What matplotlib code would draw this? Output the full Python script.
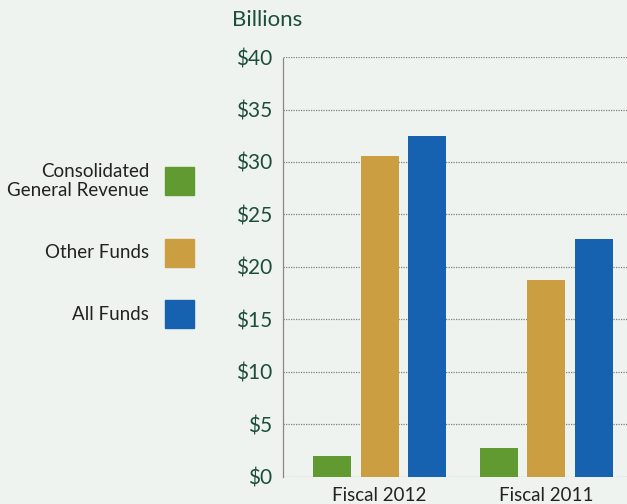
import matplotlib
matplotlib.use('Agg')
import matplotlib.pyplot as plt
import matplotlib.patches as mpatches
import numpy as np

plt.rcParams['font.family'] = ['Lato', 'DejaVu Sans']

groups = ['Fiscal 2012', 'Fiscal 2011']
series = ['Consolidated\nGeneral Revenue', 'Other Funds', 'All Funds']
general_revenue = [2.0, 2.75]
other_funds = [30.6, 18.8]
all_funds = [32.5, 22.7]
yticks = [0, 5, 10, 15, 20, 25, 30, 35, 40]

colors = ['#609a30', '#cc9e42', '#1762b0']
bg = '#eff3ef'
teal = '#1d4d3e'

fig = plt.figure(figsize=(6.27, 5.04), dpi=100, facecolor=bg)
ax = fig.add_axes([0.4514, 0.0536, 0.5486, 0.8333], facecolor=bg)

x = np.arange(len(groups))
step = 0.285
width = 0.228
for i, (vals, c) in enumerate(zip([general_revenue, other_funds, all_funds], colors)):
    ax.bar(x + (i - 1) * step, vals, width, color=c, zorder=3)

ax.set_ylim(0, 40)
ax.set_xlim(-0.58, 1.486)
ax.set_yticks(yticks)
ax.set_yticklabels(['$%d' % v for v in yticks], fontsize=15, color=teal)
ax.set_xticks(x)
ax.set_xticklabels(groups, fontsize=13.5, color='#222222')
ax.tick_params(axis='y', length=0, pad=8)
ax.tick_params(axis='x', length=0, pad=7)

for s in ['top', 'right', 'bottom']:
    ax.spines[s].set_visible(False)
ax.spines['left'].set_linestyle((0, (1, 1)))
ax.spines['left'].set_color('#888888')
ax.spines['left'].set_linewidth(0.9)
ax.yaxis.grid(True, linestyle=(0, (1, 1)), color='#808080', linewidth=0.9, zorder=0)
ax.set_axisbelow(True)

fig.text(232 / 627, 1 - 20 / 504, 'Billions', fontsize=16, color=teal, ha='left', va='center')

# legend drawn by hand on the left side
leg_y = [181, 253, 314]
for lbl, c, yc in zip(series, colors, leg_y):
    fy = 1 - yc / 504
    fig.patches.append(mpatches.Rectangle((165 / 627, fy - 14 / 504), 29 / 627, 28 / 504,
                                          transform=fig.transFigure, color=c))
    fig.text(149 / 627, fy, lbl, fontsize=13.5, color='#222222', ha='right', va='center',
             multialignment='right', linespacing=1.2)

fig.savefig('out.png', dpi=100, facecolor=bg)
